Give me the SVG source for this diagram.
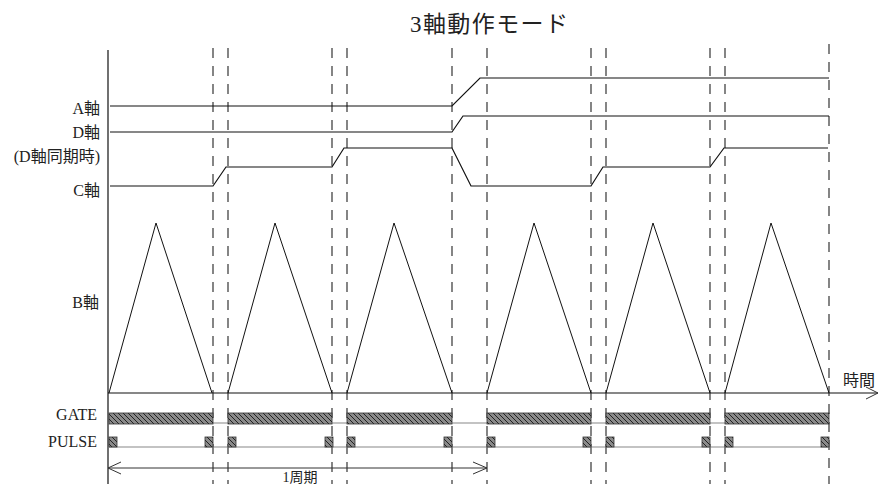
<svg xmlns="http://www.w3.org/2000/svg" width="879" height="484" viewBox="0 0 879 484">
<defs>
<style>
.lbl{font-family:"Liberation Serif","Noto Sans CJK JP",serif;font-size:16px;fill:#222;text-anchor:end}
.cjk{font-family:"Liberation Serif","Noto Sans CJK JP",serif;fill:#222}
.sig{fill:none;stroke:#111;stroke-width:1.2}
.tri{fill:none;stroke:#111;stroke-width:1}
.dash{fill:none;stroke:#222;stroke-width:1.1;stroke-dasharray:10 8}
.base{fill:none;stroke:#888;stroke-width:1.2}
.bar{fill:url(#hatch);stroke:#333;stroke-width:0.8}
.arr{fill:none;stroke:#333;stroke-width:1}
</style>
<pattern id="hatch" patternUnits="userSpaceOnUse" width="5" height="5">
<rect width="5" height="5" fill="#8a8a8a"/>
<path d="M-1,-1 L6,6 M-1,4 L1,6 M4,-1 L6,1" stroke="#222" stroke-width="1"/>
</pattern>
</defs>
<rect width="879" height="484" fill="#fff"/>

<text class="cjk" x="410" y="32" font-size="23" textLength="158">3軸動作モード</text>

<g id="axes">
<line x1="108" y1="50" x2="108" y2="484" stroke="#111" stroke-width="1.2"/>
<line x1="108" y1="393" x2="878" y2="393" stroke="#111" stroke-width="1.2"/>
<path class="arr" d="M866,387 L878,393 L866,399" stroke="#111"/>
<text class="cjk" x="843" y="386" font-size="16">時間</text>
</g>

<g id="dashes">
<line class="dash" x1="213" y1="48" x2="213" y2="484"/>
<line class="dash" x1="228" y1="48" x2="228" y2="484"/>
<line class="dash" x1="332" y1="48" x2="332" y2="484"/>
<line class="dash" x1="347" y1="48" x2="347" y2="484"/>
<line class="dash" x1="452" y1="48" x2="452" y2="484"/>
<line class="dash" x1="487" y1="48" x2="487" y2="484"/>
<line class="dash" x1="591" y1="48" x2="591" y2="484"/>
<line class="dash" x1="606" y1="48" x2="606" y2="484"/>
<line class="dash" x1="710" y1="48" x2="710" y2="484"/>
<line class="dash" x1="725" y1="48" x2="725" y2="484"/>
<line class="dash" x1="829" y1="44" x2="829" y2="484"/>
</g>

<g id="a-axis">
<text class="lbl" x="100" y="114">A軸</text>
<path class="sig" d="M110,106 L452,106 L480,78 L829,78"/>
</g>
<g id="d-axis">
<text class="lbl" x="100" y="138">D軸</text>
<path class="sig" d="M110,132 L452,132 L463,116 L829,116"/>
</g>
<g id="d-sync">
<text class="lbl" x="100" y="162">(D軸同期時)</text>
</g>
<g id="c-axis">
<text class="lbl" x="100" y="196">C軸</text>
<path class="sig" d="M110,186 L213,186 L226,167 L332,167 L344,148 L452,148 L471,186 L591,186 L603,167 L710,167 L724,148 L828,148"/>
</g>
<g id="b-axis">
<text class="lbl" x="99" y="308">B軸</text>
<path class="tri" d="M109,393 L156,223 L212,393 M228,393 L275,223 L332,393 M347,393 L394,223 L452,393 M487,393 L534,223 L591,393 M606,393 L653,223 L710,393 M725,393 L771,223 L829,393"/>
</g>

<g id="gate">
<text class="lbl" x="97" y="420">GATE</text>
<line class="base" x1="108" y1="423" x2="829" y2="423"/>
<rect class="bar" x="109" y="413" width="104" height="11"/>
<rect class="bar" x="228" y="413" width="104" height="11"/>
<rect class="bar" x="347" y="413" width="105" height="11"/>
<rect class="bar" x="487" y="413" width="104" height="11"/>
<rect class="bar" x="606" y="413" width="104" height="11"/>
<rect class="bar" x="725" y="413" width="104" height="11"/>
</g>

<g id="pulse">
<text class="lbl" x="97" y="447">PULSE</text>
<line class="base" x1="108" y1="447" x2="829" y2="447"/>
<rect class="bar" x="109" y="437" width="8" height="10"/>
<rect class="bar" x="205" y="437" width="8" height="10"/>
<rect class="bar" x="228" y="437" width="8" height="10"/>
<rect class="bar" x="325" y="437" width="8" height="10"/>
<rect class="bar" x="347" y="437" width="8" height="10"/>
<rect class="bar" x="444" y="437" width="8" height="10"/>
<rect class="bar" x="487" y="437" width="8" height="10"/>
<rect class="bar" x="583" y="437" width="8" height="10"/>
<rect class="bar" x="606" y="437" width="8" height="10"/>
<rect class="bar" x="702" y="437" width="8" height="10"/>
<rect class="bar" x="725" y="437" width="8" height="10"/>
<rect class="bar" x="821" y="437" width="8" height="10"/>
</g>

<g id="period">
<line class="arr" x1="108" y1="468" x2="487" y2="468"/>
<path class="arr" d="M121,462 L108,468 L121,474"/>
<path class="arr" d="M473,462 L487,468 L473,474"/>
<text class="cjk" x="300" y="482" font-size="14" text-anchor="middle">1周期</text>
</g>
</svg>
